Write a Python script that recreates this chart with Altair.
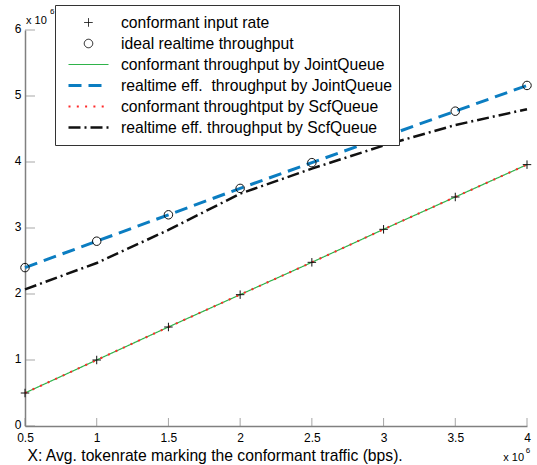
import altair as alt
import pandas as pd

# ---- data (values x 10^6) ----
x_vals = [0.5, 1.0, 1.5, 2.0, 2.5, 3.0, 3.5, 4.0]
input_rate = [0.5, 1.0, 1.5, 1.99, 2.48, 2.98, 3.47, 3.96]
ideal_rt = [2.4, 2.8, 3.2, 3.6, 3.99, 4.38, 4.77, 5.16]
joint_conf = [0.5, 1.0, 1.5, 1.99, 2.48, 2.98, 3.47, 3.96]
joint_rt = [2.4, 2.8, 3.2, 3.6, 3.99, 4.38, 4.77, 5.16]
scf_conf = [0.5, 1.0, 1.5, 1.99, 2.48, 2.98, 3.47, 3.96]
scf_rt = [2.07, 2.47, 2.97, 3.52, 3.90, 4.25, 4.56, 4.80]

series_names = [
    "conformant input rate",
    "ideal realtime throughput",
    "conformant throughput by JointQueue",
    "realtime eff.\u00a0 throughput by JointQueue",
    "conformant throughtput by ScfQueue",
    "realtime eff. throughput by ScfQueue",
]
x_ticks = [0.5, 1.0, 1.5, 2.0, 2.5, 3.0, 3.5, 4.0]
y_ticks = [0, 1, 2, 3, 4, 5, 6]

colors = ["#111111", "#111111", "#2fb34a", "#0b7dc1", "#ff2a2a", "#111111"]
cross = "M-1,0L1,0M0,-1L0,1"
shapes = [cross, "circle", "stroke", "stroke", "stroke", "stroke"]
sizes = [72, 72, 1600, 1600, 1600, 1600]
dashes = [[1, 0], [1, 0], [1, 0], [13, 7], [2, 6.3], [12, 4, 2, 4]]
widths = [1, 1, 1.2, 3, 2, 2.5]

series_vals = [input_rate, ideal_rt, joint_conf, joint_rt, scf_conf, scf_rt]
rows = []
for name, vals in zip(series_names, series_vals):
    for xv, yv in zip(x_vals, vals):
        rows.append({"x": xv, "y": yv, "series": name})
df = pd.DataFrame(rows)

line_series = series_names[2:]
point_series = series_names[:2]
df_lines = df[df.series.isin(line_series)]
df_points = df[df.series.isin(point_series)]

FONT = "Liberation Sans"
GRAY = "#808080"

xs = alt.Scale(domain=[0.5, 4], nice=False, zero=False)
ys = alt.Scale(domain=[0, 6], nice=False)

X = alt.X("x:Q", scale=xs, axis=alt.Axis(
    values=x_ticks, format="~g", ticks=False, grid=False, labelFontSize=12, labelPadding=6,
    labelFont=FONT, labelColor="black", domainColor=GRAY, domainWidth=1.5,
    labelFlush=False,
    title="X: Avg. tokenrate marking the conformant traffic (bps).",
    titleFont=FONT, titleFontSize=15.7, titleFontWeight="normal", titleColor="black",
    titleAnchor="start", titleAlign="left", titleBaseline="middle",
    titleX=2, titleY=29))
Y = alt.Y("y:Q", scale=ys, axis=alt.Axis(
    values=y_ticks, format="d", ticks=False, grid=False, labelFontSize=12, labelPadding=4,
    labelOffset=-2,
    labelFont=FONT, labelColor="black", domainColor=GRAY, domainWidth=1.5,
    labelFlush=False, title=None))

legend = alt.Legend(title=None)
color_enc = alt.Color("series:N", scale=alt.Scale(domain=series_names, range=colors), legend=legend)
dash_enc = alt.StrokeDash("series:N", scale=alt.Scale(type="ordinal", domain=series_names, range=dashes), legend=legend)
width_enc = alt.StrokeWidth("series:N", scale=alt.Scale(type="ordinal", domain=series_names, range=widths), legend=None)
shape_enc = alt.Shape("series:N", scale=alt.Scale(domain=series_names, range=shapes), legend=legend)
size_enc = alt.Size("series:N", scale=alt.Scale(type="ordinal", domain=series_names, range=sizes), legend=legend)

lines = alt.Chart(df_lines).mark_line().encode(
    x=X, y=Y, color=color_enc, strokeDash=dash_enc, strokeWidth=width_enc,
    order=alt.Order("x:Q"))

points = alt.Chart(df_points).mark_point(filled=False, opacity=1).encode(
    x=X, y=Y, color=color_enc, shape=shape_enc, size=size_enc, strokeWidth=width_enc)

xt = alt.Chart(pd.DataFrame({"v": x_ticks})).mark_tick(
    orient="vertical", size=8, thickness=1, color=GRAY, yOffset=-4).encode(
    x=alt.X("v:Q", scale=xs), y=alt.datum(0))
yt = alt.Chart(pd.DataFrame({"v": y_ticks})).mark_tick(
    orient="horizontal", size=10, thickness=1, color=GRAY, xOffset=5).encode(
    y=alt.Y("v:Q", scale=ys), x=alt.datum(0.5))

exp_top = alt.Chart(pd.DataFrame({"a": [0]})).mark_text(
    text="x 10", font=FONT, fontSize=11, align="left", baseline="middle", dx=1, dy=-9
).encode(x=alt.datum(0.5), y=alt.datum(6))
exp_top6 = alt.Chart(pd.DataFrame({"a": [0]})).mark_text(
    text="6", font=FONT, fontSize=8, align="left", baseline="middle", dx=25, dy=-18
).encode(x=alt.datum(0.5), y=alt.datum(6))
exp_bot = alt.Chart(pd.DataFrame({"a": [0]})).mark_text(
    text="x 10", font=FONT, fontSize=11, align="right", baseline="middle", dx=-3, dy=32
).encode(x=alt.datum(4), y=alt.datum(0))
exp_bot6 = alt.Chart(pd.DataFrame({"a": [0]})).mark_text(
    text="6", font=FONT, fontSize=8, align="center", baseline="middle", dx=1, dy=25
).encode(x=alt.datum(4), y=alt.datum(0))

chart = alt.layer(lines, points, xt, yt, exp_top, exp_top6, exp_bot, exp_bot6).properties(
    width=502, height=396,
    autosize=alt.AutoSizeParams(type="none"),
    padding={"left": 25, "top": 30, "right": 10, "bottom": 39},
    background="white",
).configure_view(stroke=None).configure_legend(
    orient="none", legendX=30, legendY=-25,
    strokeColor="#333333", fillColor="white", padding=7,
    labelFont=FONT, labelFontSize=15.7, labelColor="black", labelLimit=400,
    labelOffset=11, symbolOffset=5, symbolStrokeWidth=2.5, clipHeight=21, rowPadding=0,
)

chart.save("out.html", embed_options={"renderer": "svg", "actions": False})
